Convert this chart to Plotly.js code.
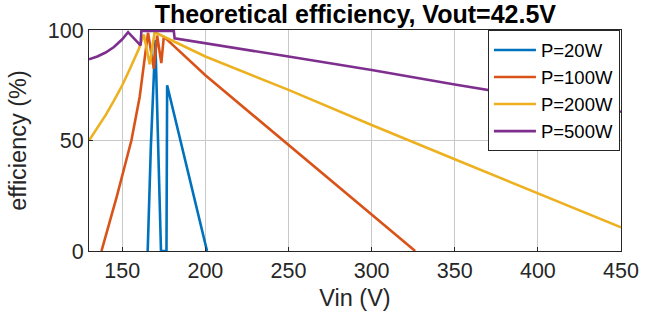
<!DOCTYPE html>
<html>
<head>
<meta charset="utf-8">
<script src="https://cdn.plot.ly/plotly-3.0.1.min.js"></script>
<style>
html,body{margin:0;padding:0;background:#fff;}
#chart{width:658px;height:324px;}
</style>
</head>
<body>
<div id="chart"></div>
<script>
// Data
const seriesNames = ["P=20W", "P=100W", "P=200W", "P=500W"];
const seriesColors = ["#0072BD", "#D95319", "#EDB120", "#7E2F8E"];

const vin20  = [165.3, 166.8, 167.2, 169.9, 173.3, 176.6, 177.0, 201.0];
const eff20  = [0, 43, 47, 95.5, 0, 0, 75, 0];

const vin100 = [137.5, 142, 146.7, 151, 155.5, 160.5, 164, 165.5, 169, 171, 173.5, 175, 200, 250, 300, 326.2];
const eff100 = [0, 11.5, 24.6, 37, 50, 69.8, 89, 98.8, 82.5, 97.5, 85, 97, 79.5, 48, 16.3, 0];

const vin200 = [130, 135, 140, 145, 150, 155, 160, 163, 166.5, 169.5, 200, 250, 300, 350, 400, 450];
const eff200 = [50, 55.8, 61.5, 68, 75, 83, 91.5, 98, 84.5, 99, 88, 72.9, 57, 41.5, 26, 10.7];

const vin500 = [130, 135, 140, 145, 150, 153.5, 161, 161.5, 181, 181.5, 250, 300, 350, 400, 450];
const eff500 = [86.7, 88, 89.8, 92.3, 95.8, 99, 93, 99.6, 99.6, 96.2, 88, 81.9, 75.3, 69, 63];

const xTicks = [150, 200, 250, 300, 350, 400, 450];
const yTicks = [0, 50, 100];

const xs = [vin20, vin100, vin200, vin500];
const ys = [eff20, eff100, eff200, eff500];

const traces = xs.map((x, i) => ({
  x: x, y: ys[i], type: "scatter", mode: "lines",
  name: seriesNames[i],
  line: {color: seriesColors[i], width: 2.6},
  hoverinfo: "skip"
}));

const fontFam = "Liberation Sans, Arial, Helvetica, sans-serif";
const axisCol = "#262626";

const layout = {
  width: 658, height: 324,
  margin: {l: 89, r: 37, t: 30, b: 73, pad: 0},
  paper_bgcolor: "#fff", plot_bgcolor: "#fff",
  font: {family: fontFam, size: 21, color: axisCol},
  title: {text: "<b>Theoretical efficiency, Vout=42.5V</b>", x: 0.54, xanchor: "center",
          yref: "container", y: 0.955, yanchor: "middle",
          font: {family: fontFam, size: 25, color: "#000"}},
  xaxis: {
    range: [130, 450], tickvals: xTicks, ticktext: xTicks.map(String),
    showgrid: true, gridcolor: "#c8c8c8", gridwidth: 1,
    showline: true, linecolor: axisCol, linewidth: 1, mirror: true,
    ticks: "inside", ticklen: 4, tickcolor: axisCol,
    zeroline: false, tickfont: {size: 21.5, color: axisCol},
    title: {text: "Vin (V)", font: {size: 23.5, color: axisCol}, standoff: 7}
  },
  yaxis: {
    range: [0, 100], tickvals: yTicks, ticktext: yTicks.map(String),
    showgrid: true, gridcolor: "#c8c8c8", gridwidth: 1,
    showline: true, linecolor: axisCol, linewidth: 1, mirror: true,
    ticks: "inside", ticklen: 4, tickcolor: axisCol,
    zeroline: false, tickfont: {size: 21.5, color: axisCol},
    title: {text: "efficiency (%)", font: {size: 23.5, color: axisCol}, standoff: 14}
  },
  legend: {
    x: 0.998, xanchor: "right", y: 0.998, yanchor: "top",
    bgcolor: "#fff", bordercolor: axisCol, borderwidth: 1,
    font: {size: 18.5, color: "#000"},
    tracegroupgap: 0, itemwidth: 42
  },
  showlegend: true
};

Plotly.newPlot("chart", traces, layout, {staticPlot: true, displayModeBar: false});
</script>
</body>
</html>
